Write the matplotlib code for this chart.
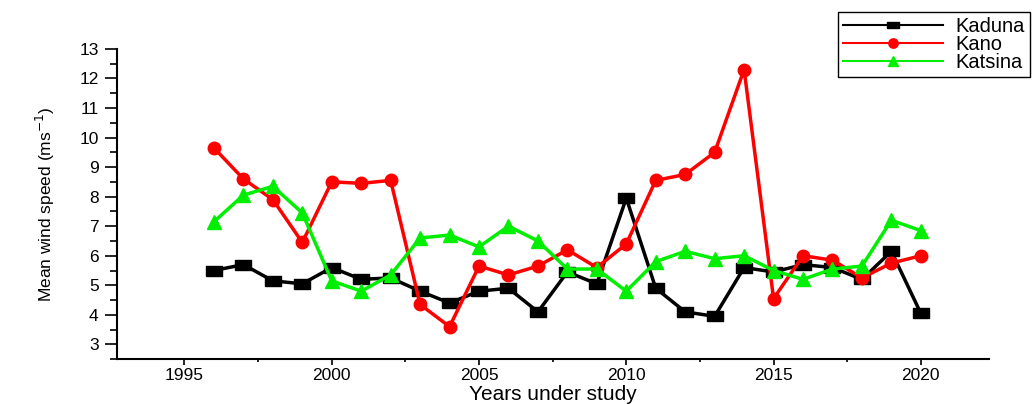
import matplotlib
matplotlib.use("Agg")
import matplotlib.pyplot as plt
from matplotlib.ticker import MultipleLocator

years = list(range(1996, 2021))
kaduna = [5.5, 5.7, 5.15, 5.05, 5.6, 5.2, 5.25, 4.8, 4.4, 4.8, 4.9, 4.1, 5.45,
          5.05, 7.95, 4.9, 4.1, 3.95, 5.6, 5.45, 5.7, 5.6, 5.2, 6.15, 4.05]
kano = [9.65, 8.6, 7.9, 6.45, 8.5, 8.45, 8.55, 4.35, 3.6, 5.65, 5.35, 5.65, 6.2,
        5.6, 6.4, 8.55, 8.75, 9.5, 12.3, 4.55, 6.0, 5.85, 5.25, 5.75, 6.0]
katsina = [7.15, 8.05, 8.35, 7.45, 5.15, 4.8, 5.35, 6.6, 6.7, 6.3, 7.0, 6.5, 5.55,
           5.55, 4.8, 5.8, 6.15, 5.9, 6.0, 5.5, 5.2, 5.55, 5.65, 7.2, 6.85]

plt.rcParams['font.family'] = ['Liberation Sans', 'DejaVu Sans']

fig = plt.figure(figsize=(10.33, 4.04), dpi=100)
ax = fig.add_axes([0.113, 0.111, 0.844, 0.768])

wide_sq = [(-1.5, -0.9), (1.5, -0.9), (1.5, 0.9), (-1.5, 0.9), (-1.5, -0.9)]

ax.plot(years, kaduna, color='black', lw=2.5, marker=wide_sq, ms=11, label='Kaduna')
ax.plot(years, kano, color='red', lw=2.5, marker='o', ms=9, label='Kano')
ax.plot(years, katsina, color='#00ee00', lw=2.5, marker='^', ms=10, label='Katsina')

ax.set_xlim(1992.7, 2022.3)
ax.set_ylim(2.5, 13)
ax.xaxis.set_major_locator(MultipleLocator(5))
ax.xaxis.set_minor_locator(MultipleLocator(2.5))
ax.yaxis.set_minor_locator(MultipleLocator(0.5))
ax.set_yticks(range(3, 14))
ax.tick_params(which='both', width=1.2, direction='out', labelsize=12.5)
ax.tick_params(axis='x', which='major', length=4.5, pad=2)
ax.tick_params(axis='x', which='minor', length=2.5)
ax.tick_params(axis='y', which='major', length=9, pad=4)
ax.tick_params(axis='y', which='minor', length=5)
for s in ['top', 'right']:
    ax.spines[s].set_visible(False)
for s in ['left', 'bottom']:
    ax.spines[s].set_linewidth(1.5)

ax.set_xlabel('Years under study', fontsize=15, labelpad=1)
ax.set_ylabel('Mean wind speed (ms$^{-1}$)', fontsize=12.5,
              family=['Liberation Sans Narrow', 'Liberation Sans'], labelpad=16)

leg = fig.legend(loc='upper right', bbox_to_anchor=(0.997, 0.97), fontsize=14.5,
                 fancybox=False, edgecolor='black', framealpha=1, markerscale=0.75,
                 handlelength=5.0, handletextpad=0.6, borderaxespad=0,
                 labelspacing=-0.05, borderpad=0.25)
leg.get_frame().set_linewidth(1.0)
for ln in leg.get_lines():
    ln.set_linewidth(1.5)

fig.savefig('out.png', dpi=100)
